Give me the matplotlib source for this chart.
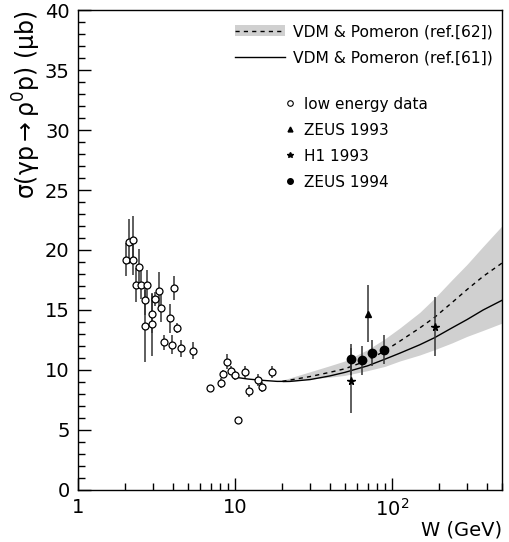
import matplotlib
matplotlib.use('Agg')
import matplotlib.pyplot as plt
from matplotlib.lines import Line2D
from matplotlib.patches import Patch
from matplotlib.ticker import MultipleLocator, FixedLocator, FixedFormatter, NullFormatter

plt.rc('font', family='DejaVu Sans')
plt.rc('mathtext', default='regular')

# low energy data
w_low = [2.02, 2.12, 2.25, 2.25, 2.34, 2.46, 2.51, 2.68, 2.66, 2.76, 2.96, 2.96,
         3.10, 3.26, 3.36, 3.55, 3.85, 3.97, 4.09, 4.25, 4.55, 5.37,
         6.93, 8.15, 8.43, 8.93, 9.40, 9.96, 10.4, 11.5, 12.2, 14.1, 14.9, 17.1]
s_low = [19.2, 20.7, 20.8, 19.2, 17.1, 18.6, 17.1, 15.8, 13.7, 17.1, 14.7, 13.8,
         15.9, 16.6, 15.2, 12.3, 14.3, 12.1, 16.8, 13.5, 11.8, 11.6,
         8.5, 8.9, 9.7, 10.7, 9.95, 9.55, 5.8, 9.8, 8.25, 9.2, 8.6, 9.8]
e_low = [1.4, 1.9, 2.0, 1.3, 1.4, 1.5, 1.2, 1.2, 3.0, 1.2, 1.6, 2.6,
         0.6, 1.6, 1.2, 0.6, 1.2, 0.8, 1.0, 0.4, 0.7, 0.7,
         0.2, 0.4, 0.3, 0.6, 0.4, 0.4, 0.2, 0.5, 0.5, 0.5, 0.4, 0.5]

# ZEUS 1993
w_z93 = [70.0]
s_z93 = [14.7]
e_z93 = [2.4]

# H1 1993
w_h1 = [55.0, 187.0]
s_h1 = [9.1, 13.6]
e_h1_lo = [2.7, 2.45]
e_h1_hi = [2.7, 2.45]

# ZEUS 1994
w_z94 = [54.8, 64.7, 74.8, 89.3]
s_z94 = [10.9, 10.8, 11.4, 11.7]
e_z94 = [1.3, 1.2, 1.1, 1.2]

# VDM & Pomeron (ref.[61])
w_61 = [9.6, 10, 12, 14.5, 18.5, 22.4, 30, 40, 50, 70, 90, 112, 150, 187, 240, 300, 380, 500]
s_61 = [9.45, 9.4, 9.25, 9.15, 9.05, 9.05, 9.2, 9.5, 9.8, 10.35, 10.9, 11.4, 12.1, 12.7, 13.5, 14.2, 15.0, 15.8]

# VDM & Pomeron (ref.[62]) with band
w_62 = [20, 30, 40, 50, 70, 90, 112, 150, 187, 240, 300, 380, 500]
s_62 = [9.05, 9.45, 9.8, 10.1, 10.8, 11.6, 12.4, 13.5, 14.4, 15.6, 16.7, 17.8, 18.9]
s_62_hi = [9.15, 9.85, 10.35, 10.75, 11.7, 12.6, 13.5, 14.8, 16.0, 17.5, 18.8, 20.3, 22.0]
s_62_lo = [8.95, 9.25, 9.4, 9.55, 9.95, 10.3, 10.75, 11.25, 11.7, 12.25, 12.8, 13.3, 13.9]

fig = plt.figure(figsize=(5.1, 5.42), dpi=100)
ax = fig.add_axes([0.153, 0.096, 0.831, 0.8855])

ax.fill_between(w_62, s_62_lo, s_62_hi, color='#d0d0d0', lw=0)
ax.plot(w_62, s_62, color='black', lw=1, ls=(0, (3, 3)))
ax.plot(w_61, s_61, color='black', lw=1)

eb = dict(ecolor='#333333', elinewidth=1.1, capsize=0, ls='none')
ax.errorbar(w_low, s_low, yerr=e_low, fmt='o', ms=5, mfc='white', mec='black', mew=0.9, **eb)
ax.errorbar(w_z93, s_z93, yerr=e_z93, fmt='^', ms=4.5, color='black', **eb)
ax.errorbar(w_h1, s_h1, yerr=[e_h1_lo, e_h1_hi], fmt='*', ms=5.5, color='black', **eb)
ax.errorbar(w_z94, s_z94, yerr=e_z94, fmt='o', ms=6, color='black', **eb)

ax.set_xscale('log')
ax.set_xlim(1, 500)
ax.set_ylim(0, 40)

ax.xaxis.set_major_locator(FixedLocator([1, 10, 100]))
ax.xaxis.set_major_formatter(FixedFormatter(['1', '10', r'10$^{2}$']))
ax.xaxis.set_minor_formatter(NullFormatter())
ax.yaxis.set_major_locator(MultipleLocator(5))
ax.yaxis.set_minor_locator(MultipleLocator(1))
ax.tick_params(which='both', direction='in', top=False, right=False, labelsize=14, width=1)
ax.tick_params(which='major', length=9, pad=6)
ax.tick_params(which='minor', length=5)
for sp in ax.spines.values():
    sp.set_linewidth(1)

ax.set_xlabel('W (GeV)', loc='right', fontsize=14, labelpad=0)
ax.set_ylabel(r'$\sigma(\gamma p\rightarrow\rho^{0}p)$ ($\mu$b)', loc='top', fontsize=17, labelpad=1)

h1 = [(Patch(color='#d0d0d0', lw=0), Line2D([], [], color='black', lw=1, ls=(0, (3, 3)))),
      Line2D([], [], color='black', lw=1)]
leg1 = ax.legend(h1, ['VDM & Pomeron (ref.[62])', 'VDM & Pomeron (ref.[61])'],
                 loc='upper right', bbox_to_anchor=(1.0, 0.99), frameon=False,
                 fontsize=11.2, handlelength=3.2, handletextpad=0.5, borderaxespad=0.2,
                 labelspacing=0.7)
ax.add_artist(leg1)
h2 = [Line2D([], [], marker='o', ls='none', ms=4, mfc='white', mec='black', mew=0.8),
      Line2D([], [], marker='^', ls='none', ms=3.5, color='black'),
      Line2D([], [], marker='*', ls='none', ms=4, color='black'),
      Line2D([], [], marker='o', ls='none', ms=4, color='black')]
ax.legend(h2, ['low energy data', 'ZEUS 1993', 'H1 1993', 'ZEUS 1994'],
          loc='upper left', bbox_to_anchor=(0.45, 0.848), frameon=False,
          fontsize=11, handlelength=1.0, handletextpad=0.4, labelspacing=0.72)

fig.savefig('out.png', dpi=100)
